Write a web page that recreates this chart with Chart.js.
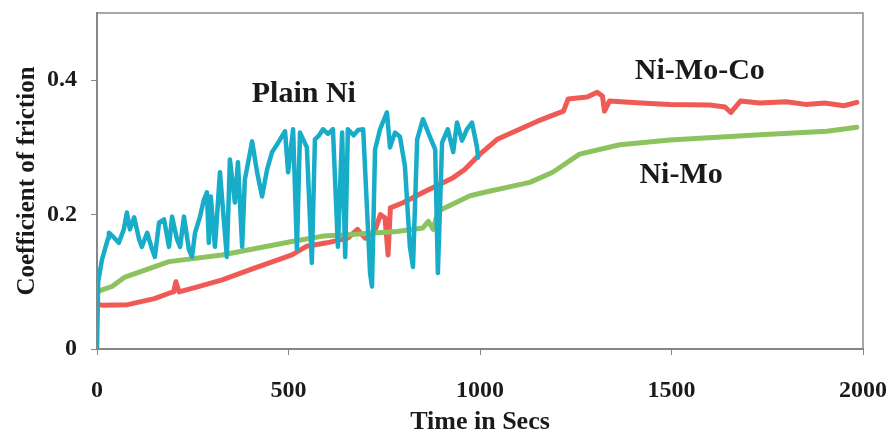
<!DOCTYPE html>
<html>
<head>
<meta charset="utf-8">
<script src="https://cdn.jsdelivr.net/npm/chart.js@4.4.0/dist/chart.umd.min.js"></script>
<style>
  html, body { margin: 0; padding: 0; background: #fff; }
  #wrap { width: 890px; height: 435px; }
</style>
</head>
<body>
<div id="wrap"><canvas id="cof-chart" width="890" height="435"></canvas></div>
<script>
// time (s) and coefficient of friction
const plainNiTime = [0, 3, 13, 29, 31, 44, 57, 70, 78, 86, 97, 110, 117, 131, 144, 151, 162, 175, 188, 196,
  209, 217, 227, 240, 248, 256, 269, 279, 287, 292, 297, 308, 321, 339, 347, 360, 368, 379, 386, 405,
  418, 431, 444, 457, 473, 491, 499, 512, 522, 530, 548, 561, 569, 580, 590, 603, 616, 629, 640, 648, 655, 670, 682, 695,
  713, 718, 726, 739, 757, 765, 778, 791, 804, 817, 825, 836, 851, 869, 883, 890, 901, 916, 930, 940,
  953, 966, 979, 992, 995];
const plainNiCof = [0, 0.10, 0.133, 0.165, 0.173, 0.166, 0.158, 0.178, 0.203, 0.178, 0.196, 0.163, 0.152, 0.173, 0.148, 0.137, 0.188, 0.193, 0.152, 0.197,
  0.163, 0.152, 0.197, 0.148, 0.137, 0.173, 0.197, 0.222, 0.233, 0.158, 0.227, 0.152, 0.263, 0.137, 0.282, 0.218, 0.278, 0.152, 0.252, 0.309,
  0.263, 0.227, 0.267, 0.293, 0.307, 0.324, 0.263, 0.327, 0.148, 0.322, 0.300, 0.128, 0.312, 0.318, 0.327, 0.320, 0.327, 0.152, 0.322, 0.137, 0.327, 0.318, 0.326, 0.327,
  0.113, 0.093, 0.297, 0.327, 0.352, 0.300, 0.322, 0.316, 0.272, 0.152, 0.122, 0.312, 0.342, 0.316, 0.297, 0.113, 0.307, 0.327, 0.293, 0.337,
  0.310, 0.327, 0.337, 0.301, 0.285];

const niMoTime = [0, 13, 39, 73, 188, 326, 509, 590, 653, 783, 850, 865, 878, 890, 974, 1018, 1130, 1190, 1260, 1365, 1496, 1731, 1906, 1984];
const niMoCof = [0.085, 0.088, 0.093, 0.107, 0.130, 0.140, 0.160, 0.168, 0.170, 0.175, 0.180, 0.190, 0.178, 0.205, 0.228, 0.234, 0.248, 0.263, 0.290, 0.304, 0.311, 0.319, 0.324, 0.330];

const niMoCoTime = [0, 15, 80, 150, 188, 200, 206, 214, 260, 327, 400, 509, 548, 600, 655, 680, 700, 725, 740, 752, 760, 766, 800, 851,
  930, 960, 1000, 1045, 1150, 1218, 1230, 1280, 1306, 1320, 1325, 1338, 1420, 1496, 1600, 1640, 1655, 1680, 1730, 1800, 1850, 1900, 1950, 1984];
const niMoCoCof = [0.067, 0.065, 0.066, 0.075, 0.083, 0.085, 0.100, 0.085, 0.092, 0.103, 0.118, 0.140, 0.153, 0.158, 0.165, 0.178, 0.165, 0.175, 0.200, 0.195, 0.140, 0.210, 0.218, 0.233,
  0.255, 0.267, 0.290, 0.312, 0.339, 0.354, 0.372, 0.375, 0.382, 0.376, 0.354, 0.369, 0.366, 0.364, 0.363, 0.360, 0.352, 0.369, 0.366, 0.368, 0.364, 0.366, 0.362, 0.367];

const xTicks = [0, 500, 1000, 1500, 2000];
const yTicks = [0, 0.2, 0.4];

const labelsOnPlot = [
  { text: 'Plain Ni', x: 540, y: 0.379 },
  { text: 'Ni-Mo-Co', x: 1574, y: 0.413 },
  { text: 'Ni-Mo', x: 1525, y: 0.258 }
];

const serif = '"Liberation Serif", "Times New Roman", serif';

function toPoints(xs, ys) {
  return xs.map((x, i) => ({ x: x, y: ys[i] }));
}

function noPad(scale) {
  scale.paddingLeft = 0;
  scale.paddingRight = 0;
  scale.paddingTop = 0;
  scale.paddingBottom = 0;
}

// frame round the plot and the curve names
const framePlugin = {
  id: 'frame',
  afterDatasetsDraw(chart) {
    const { ctx, chartArea, scales } = chart;
    ctx.save();
    ctx.strokeStyle = '#8a8a8a';
    ctx.lineWidth = 1.5;
    ctx.strokeRect(chartArea.left, chartArea.top, chartArea.right - chartArea.left, chartArea.bottom - chartArea.top);
    ctx.fillStyle = '#1a1a1a';
    ctx.font = 'bold 30px ' + serif;
    ctx.textAlign = 'center';
    ctx.textBaseline = 'middle';
    labelsOnPlot.forEach(l => {
      ctx.fillText(l.text, scales.x.getPixelForValue(l.x), scales.y.getPixelForValue(l.y));
    });
    ctx.restore();
  }
};

const ctx = document.getElementById('cof-chart').getContext('2d');
const chart = new Chart(ctx, {
  type: 'line',
  data: {
    datasets: [{
      label: 'Plain Ni',
      data: toPoints(plainNiTime, plainNiCof),
      borderColor: '#17acc7',
      borderWidth: 4.5
    }, {
      label: 'Ni-Mo',
      data: toPoints(niMoTime, niMoCof),
      borderColor: '#8cc35f',
      borderWidth: 5
    }, {
      label: 'Ni-Mo-Co',
      data: toPoints(niMoCoTime, niMoCoCof),
      borderColor: '#ef5a55',
      borderWidth: 5
    }]
  },
  options: {
    responsive: false,
    animation: false,
    elements: {
      point: { radius: 0 },
      line: { tension: 0, fill: false, borderJoinStyle: 'round', borderCapStyle: 'round' }
    },
    layout: { padding: { left: 0, right: 27, top: 13, bottom: 0 } },
    plugins: {
      legend: { display: false },
      tooltip: { enabled: false }
    },
    scales: {
      x: {
        type: 'linear',
        min: 0,
        max: 2000,
        afterBuildTicks: scale => { scale.ticks = xTicks.map(v => ({ value: v })); },
        afterFit: scale => { scale.height = 86; noPad(scale); },
        grid: { drawOnChartArea: false, drawTicks: true, tickLength: 6, color: '#888' },
        border: { display: true, color: '#7a7a7a', width: 2 },
        ticks: {
          padding: 21,
          maxRotation: 0,
          color: '#1a1a1a',
          font: { family: serif, size: 24, weight: 'bold' },
          callback: v => String(v)
        },
        title: {
          display: true,
          text: 'Time in Secs',
          color: '#1a1a1a',
          padding: { top: 0, bottom: 0 },
          font: { family: serif, size: 26, weight: 'bold', lineHeight: 1.0 }
        }
      },
      y: {
        min: 0,
        max: 0.5,
        afterBuildTicks: scale => { scale.ticks = yTicks.map(v => ({ value: v })); },
        afterFit: scale => { scale.width = 97; noPad(scale); },
        grid: { drawOnChartArea: false, drawTicks: true, tickLength: 6, color: '#888' },
        border: { display: true, color: '#7a7a7a', width: 2 },
        ticks: {
          padding: 14,
          color: '#1a1a1a',
          font: { family: serif, size: 24, weight: 'bold' },
          callback: v => String(v)
        },
        title: {
          display: true,
          text: 'Coefficient of friction',
          color: '#1a1a1a',
          padding: { top: 13, bottom: 0 },
          font: { family: serif, size: 25, weight: 'bold' }
        }
      }
    }
  },
  plugins: [framePlugin]
});
</script>
</body>
</html>
